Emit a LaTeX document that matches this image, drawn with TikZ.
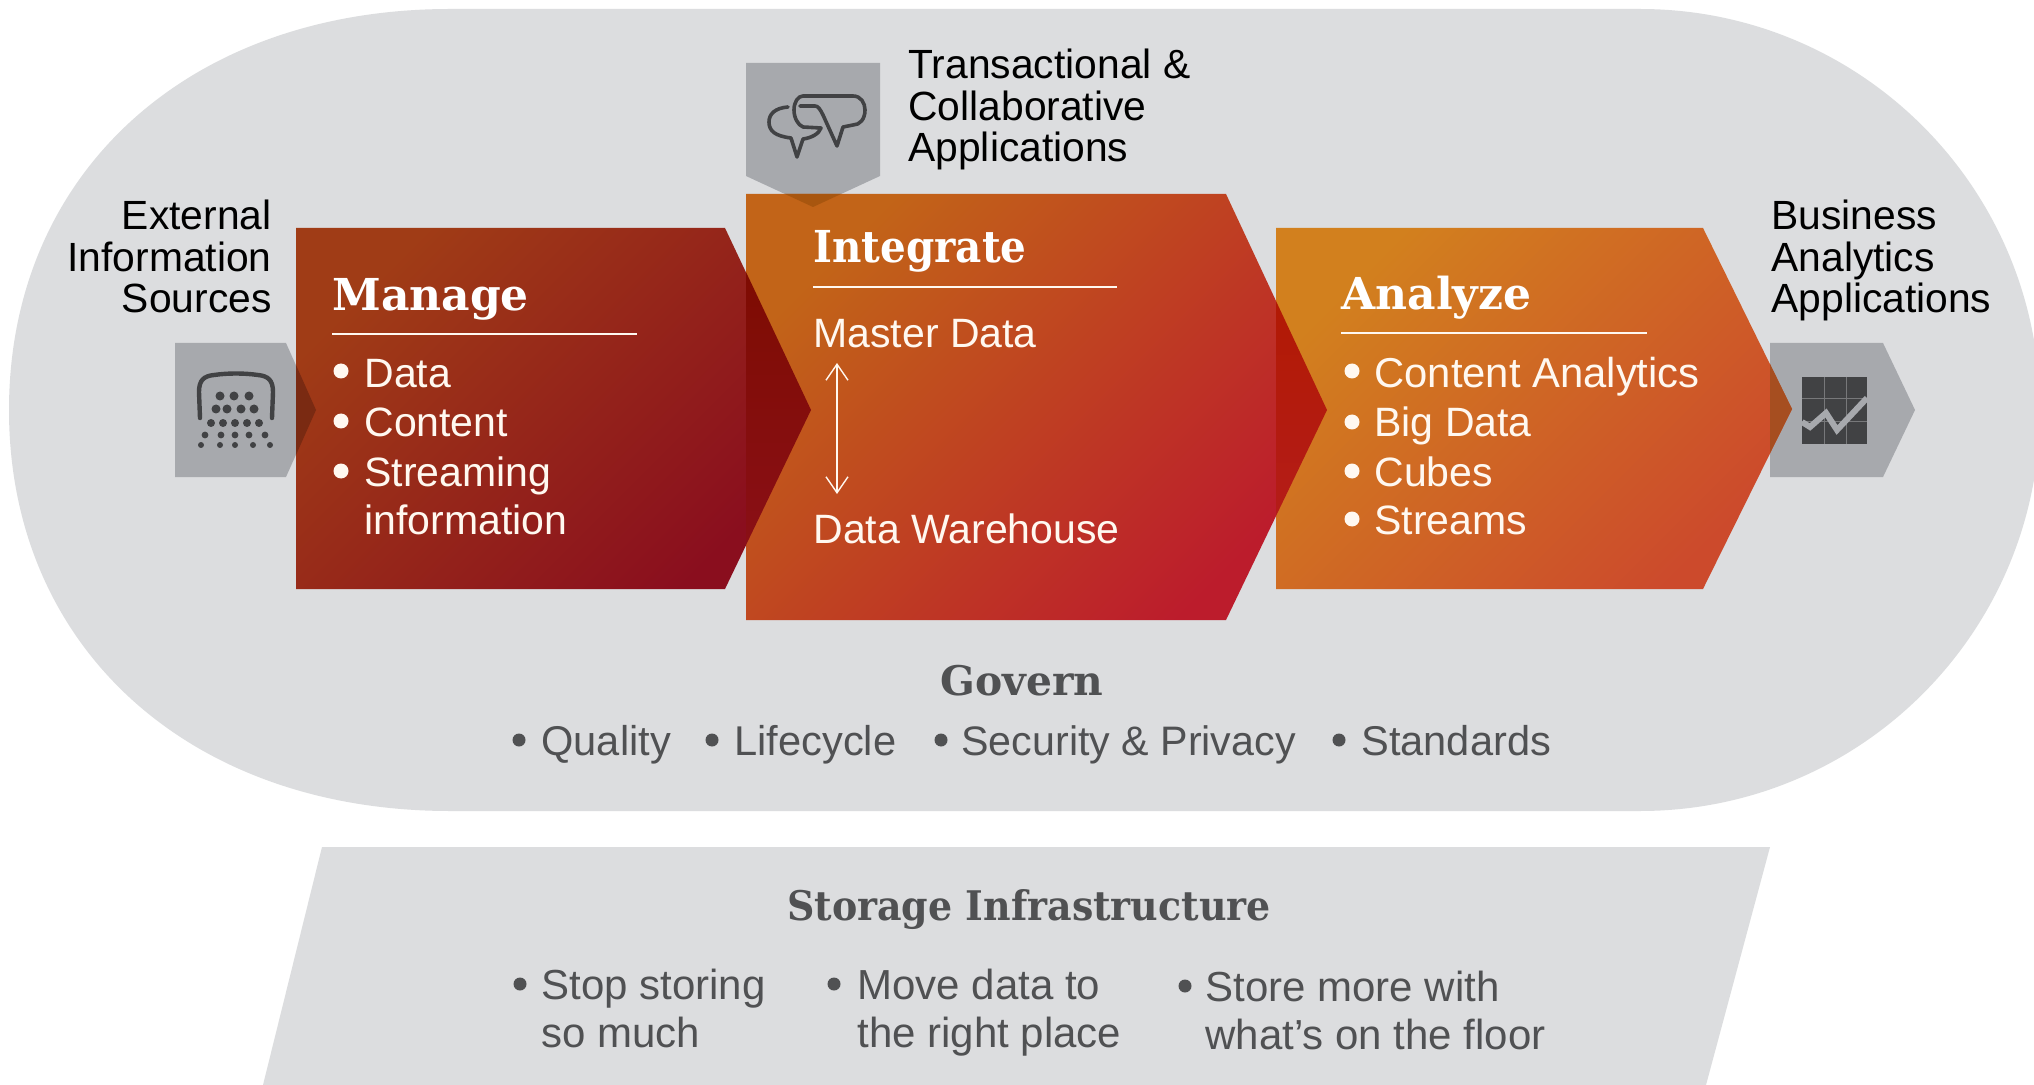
\documentclass[tikz,border=0pt]{standalone}
\usepackage{fontspec}
\setmainfont{Liberation Sans}
\newfontfamily\slabfont{DejaVu Serif}
\usetikzlibrary{arrows.meta}
\definecolor{panel}{HTML}{DCDDDF}
\definecolor{iconbox}{HTML}{A7A9AD}
\definecolor{glyph}{HTML}{414244}
\definecolor{gridline}{HTML}{77787A}
\definecolor{bodygrey}{HTML}{505153}
\definecolor{softwhite}{HTML}{FFF8F0}
\definecolor{manA}{HTML}{A03C16}
\definecolor{manB}{HTML}{8A0E1E}
\definecolor{intA}{HTML}{C26418}
\definecolor{intB}{HTML}{BC1C2C}
\definecolor{anaA}{HTML}{D2801E}
\definecolor{anaB}{HTML}{CC4A2C}
\definecolor{overManTop}{HTML}{7E0C02}
\definecolor{overManBot}{HTML}{8A0F16}
\definecolor{overIntTop}{HTML}{B21A04}
\definecolor{overIntBot}{HTML}{B41C18}
\definecolor{tipLeft}{HTML}{7A2A12}
\definecolor{tipTop}{HTML}{A8560F}
\definecolor{tipRight}{HTML}{A64E20}
\tikzset{
  x=0.5pt,y=-0.5pt,
  blacktext/.style={inner sep=0pt,text=black,font=\fontsize{20.4}{20.75}\selectfont},
  whitetext/.style={inner sep=0pt,anchor=base west,text=softwhite,font=\fontsize{20.5}{24.2}\selectfont},
  greytext/.style={inner sep=0pt,anchor=base west,text=bodygrey,font=\fontsize{20.8}{23.5}\selectfont},
  storetext/.style={greytext,font=\fontsize{21}{23.5}\selectfont},
  whitehead/.style={inner sep=0pt,anchor=base west,text=white,font=\slabfont\bfseries\fontsize{22}{24}\selectfont},
  greyhead/.style={inner sep=0pt,anchor=base,text=bodygrey,font=\slabfont\bfseries\fontsize{20.4}{24}\selectfont},
  whitedot/.style={circle,fill=softwhite,inner sep=0pt,minimum size=7.5pt},
  greydot/.style={circle,fill=bodygrey,inner sep=0pt,minimum size=6.5pt},
  headrule/.style={draw=softwhite,line width=0.9pt},
  glyphline/.style={draw=glyph,line width=1.8pt,line join=round,line cap=round},
}
\begin{document}
\begin{tikzpicture}
\useasboundingbox (0,0) rectangle (2034,1085);
\clip (0,0) rectangle (2034,1085);
\fill[white] (0,0) rectangle (2034,1085);
% backdrop
\fill[panel] (9,410) .. controls (9,172) and (190,9) .. (450,9) -- (1640,9)
  .. controls (1861,9) and (2040,188) .. (2040,410)
  .. controls (2040,632) and (1861,811) .. (1640,811) -- (450,811)
  .. controls (190,811) and (9,648) .. (9,410) -- cycle;
\fill[panel] (322,847) -- (1770,847) -- (1706,1085) -- (263,1085) -- cycle;
% icon boxes
\fill[iconbox] (175,343) -- (286,343) -- (316,410) -- (286,477) -- (175,477) -- cycle;
\fill[iconbox] (746,63) -- (880,63) -- (880,176) -- (813,207) -- (746,176) -- cycle;
\fill[iconbox] (1770,343) -- (1883,343) -- (1915,410) -- (1883,477) -- (1770,477) -- cycle;
% chevrons
\shade[top color=manA,bottom color=manB,shading angle=45]
  (296,228) -- (725,228) -- (811,410) -- (725,589) -- (296,589) -- cycle;
\shade[top color=intA,bottom color=intB,shading angle=45]
  (746,194) -- (1226,194) -- (1327,410) -- (1226,620) -- (746,620) -- cycle;
\shade[top color=anaA,bottom color=anaB,shading angle=45]
  (1276,228) -- (1703,228) -- (1792,409) -- (1703,589) -- (1276,589) -- cycle;
% overlaps of tips on the chevrons
\shade[top color=overManTop,bottom color=overManBot] (746,272) -- (811,410) -- (746,545) -- cycle;
\shade[top color=overIntTop,bottom color=overIntBot] (1276,301) -- (1327,410) -- (1276,516) -- cycle;
\fill[tipLeft] (296,365) -- (316,410) -- (296,455) -- cycle;
\fill[tipTop] (785,194) -- (841,194) -- (813,207) -- cycle;
\fill[tipRight] (1770,364) -- (1792,409) -- (1770,453) -- cycle;
% shower icon
\draw[glyph,line width=2.2pt,line cap=round] (200,418) -- (199,392) .. controls (199,380) and (204,376) .. (214,375)
  .. controls (228,373) and (244,373) .. (258,375) .. controls (268,376) and (273,380) .. (273,392) -- (272,418);
\foreach \px/\py/\pr in {220/396/4.5,234/396/4.5,249/396/4.5,
  216/409/4.5,227/409/4.5,241/409/4.5,254/409/4.5,
  211/423/4,223/423/4,235/423/4,247/423/4,259/423/4,
  205/435/3.4,221/435/3.4,235/435/3.4,249/435/3.4,265/435/3.4,
  201/445/3,220/445/3,235/445/3,253/445/3,270/445/3}
  \fill[glyph] (\px,\py) circle[radius=\pr*0.5pt];
% speech bubbles icon
\draw[glyphline] (788,107) .. controls (775,108) and (769,114) .. (769,122)
  .. controls (769,131) and (775,136) .. (791,138) -- (797,157) -- (803,139)
  .. controls (811,138) and (819,134) .. (821,128) -- (803,127)
  .. controls (798,125) and (794,118) .. (794,110) .. controls (794,102) and (798,96) .. (803,96)
  -- (853,96) .. controls (861,96) and (865,103) .. (865,110)
  .. controls (865,119) and (860,125) .. (853,125) -- (843,127) -- (837,146) -- (823,115)
  .. controls (820,109) and (818,106) .. (815,106) -- (800,106);
% chart icon
\fill[glyph] (1802,377) rectangle (1867,444);
\draw[gridline,line width=0.5pt] (1824,377) -- (1824,444) (1846,377) -- (1846,444)
  (1802,399) -- (1867,399) (1802,422) -- (1867,422);
\draw[iconbox,line width=3pt,line join=miter] (1802,422) -- (1810,427) -- (1826,413) -- (1837,430) -- (1867,398);
% black labels
\node[blacktext,align=right,anchor=north east] (ext) at (272,200) {External\\Information\\Sources};
\node[blacktext,align=left,anchor=north west] (trans) at (908,49) {Transactional \&\\Collaborative\\Applications};
\node[blacktext,align=left,anchor=north west] (biz) at (1771,200) {Business\\Analytics\\Applications};
% Manage
\node[whitehead] (manage) at (332,311) {Manage};
\draw[headrule] (332,334) -- (637,334);
\node[whitedot] (md1) at (341,371) {};
\node[whitedot] (md2) at (341,421) {};
\node[whitedot] (md3) at (341,471) {};
\node[whitetext] (mt1) at (364,387) {Data};
\node[whitetext] (mt2) at (364,437) {Content};
\node[whitetext] (mt3) at (364,487) {Streaming};
\node[whitetext] (mt4) at (364,534) {information};
% Integrate
\node[whitehead,xscale=0.92] (integrate) at (813,263) {Integrate};
\draw[headrule] (813,287) -- (1117,287);
\node[whitetext] (master) at (813,348) {Master Data};
\node[whitetext] (warehouse) at (813,543) {Data Warehouse};
\coordinate (arrowtop) at (837,363);
\coordinate (arrowbot) at (837,494);
\draw[softwhite,line width=0.7pt,{Straight Barb[length=8pt,width=11pt]}-{Straight Barb[length=8pt,width=11pt]}] (arrowtop) -- (arrowbot);
% Analyze
\node[whitehead] (analyze) at (1341,310) {Analyze};
\draw[headrule] (1341,333) -- (1647,333);
\node[whitedot] (ad1) at (1352,371) {};
\node[whitedot] (ad2) at (1352,422) {};
\node[whitedot] (ad3) at (1352,471) {};
\node[whitedot] (ad4) at (1352,519) {};
\node[whitetext,font=\fontsize{20.9}{24.2}\selectfont] (at1) at (1374,387) {Content Analytics};
\node[whitetext] (at2) at (1374,437) {Big Data};
\node[whitetext] (at3) at (1374,487) {Cubes};
\node[whitetext] (at4) at (1374,534) {Streams};
% Govern
\node[greyhead] (govern) at (1022,695) {Govern};
\node[greydot] (g1) at (519,740) {};
\node[greydot] (g2) at (712,740) {};
\node[greydot] (g3) at (941,740) {};
\node[greydot] (g4) at (1339,740) {};
\node[greytext] (gt1) at (541,755) {Quality};
\node[greytext] (gt2) at (734,755) {Lifecycle};
\node[greytext,font=\fontsize{20.6}{23.5}\selectfont] (gt3) at (961,755) {Security \& Privacy};
\node[greytext] (gt4) at (1361,755) {Standards};
% Storage
\node[greyhead,xscale=0.93] (storage) at (1029,920) {Storage Infrastructure};
\node[greydot] (s1) at (520,984) {};
\node[greydot] (s2) at (834,984) {};
\node[greydot] (s3) at (1185,986) {};
\node[storetext] (st1) at (541,999) {Stop storing};
\node[storetext] (st1b) at (541,1047) {so much};
\node[storetext] (st2) at (857,999) {Move data to};
\node[storetext] (st2b) at (857,1047) {the right place};
\node[storetext] (st3) at (1205,1001) {Store more with};
\node[storetext] (st3b) at (1205,1049) {what's on the floor};
\end{tikzpicture}
\end{document}
